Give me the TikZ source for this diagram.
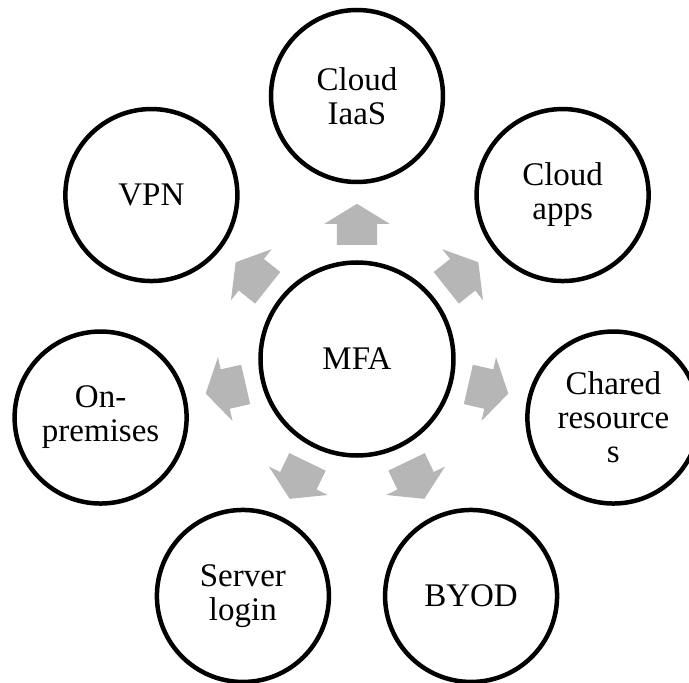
\documentclass[tikz,border=0pt]{standalone}
\usepackage{fontspec}
\setmainfont{Liberation Serif}
\usepackage{tikz}
\usetikzlibrary{shapes.arrows, calc}

\definecolor{arrowgray}{RGB}{182,182,182}
\tikzset{
  hub/.style={circle, draw, line width=4.5pt, minimum size=193pt, inner sep=0pt,
    align=center, font=\fontsize{33}{34}\selectfont},
  spoke/.style={circle, draw, line width=4.5pt, minimum size=172pt, inner sep=0pt,
    align=center, font=\fontsize{33}{34}\selectfont},
  blockarrow/.style={single arrow, fill=arrowgray, draw=none, inner xsep=0pt,
    inner ysep=20pt, minimum height=41pt, single arrow head extend=12.5pt,
    single arrow tip angle=117, anchor=tail}
}

\begin{document}
\begin{tikzpicture}[x=1pt, y=1pt]
  % Frame
  \useasboundingbox (-357,-324) rectangle (332,359);
  \clip (-357,-324) rectangle (332,359);

  % Centre
  \node[hub] (mfa) at (0,0) {MFA};

  % Outer circles
  \node[spoke] (iaas)   at (90:263)      {Cloud\\IaaS};
  \node[spoke] (apps)   at (38.57:263)   {Cloud\\apps};
  \node[spoke] (shared) at (-12.86:263)  {Chared\\resource\\s};
  \node[spoke] (byod)   at (-64.29:263)  {BYOD};
  \node[spoke] (server) at (-115.71:263) {Server\\login};
  \node[spoke] (onprem) at (-167.14:263) {On-\\premises};
  \node[spoke] (vpn)    at (141.43:263)  {VPN};

  % Arrows out of the centre
  \node[blockarrow, rotate=90]      (toiaas)   at ($(mfa)!114pt!(iaas)$)   {};
  \node[blockarrow, rotate=38.57]   (toapps)   at ($(mfa)!114pt!(apps)$)   {};
  \node[blockarrow, rotate=-12.86]  (toshared) at ($(mfa)!114pt!(shared)$) {};
  \node[blockarrow, rotate=-64.29]  (tobyod)   at ($(mfa)!114pt!(byod)$)   {};
  \node[blockarrow, rotate=-115.71] (toserver) at ($(mfa)!114pt!(server)$) {};
  \node[blockarrow, rotate=-167.14] (toonprem) at ($(mfa)!114pt!(onprem)$) {};
  \node[blockarrow, rotate=141.43]  (tovpn)    at ($(mfa)!114pt!(vpn)$)    {};
\end{tikzpicture}
\end{document}
